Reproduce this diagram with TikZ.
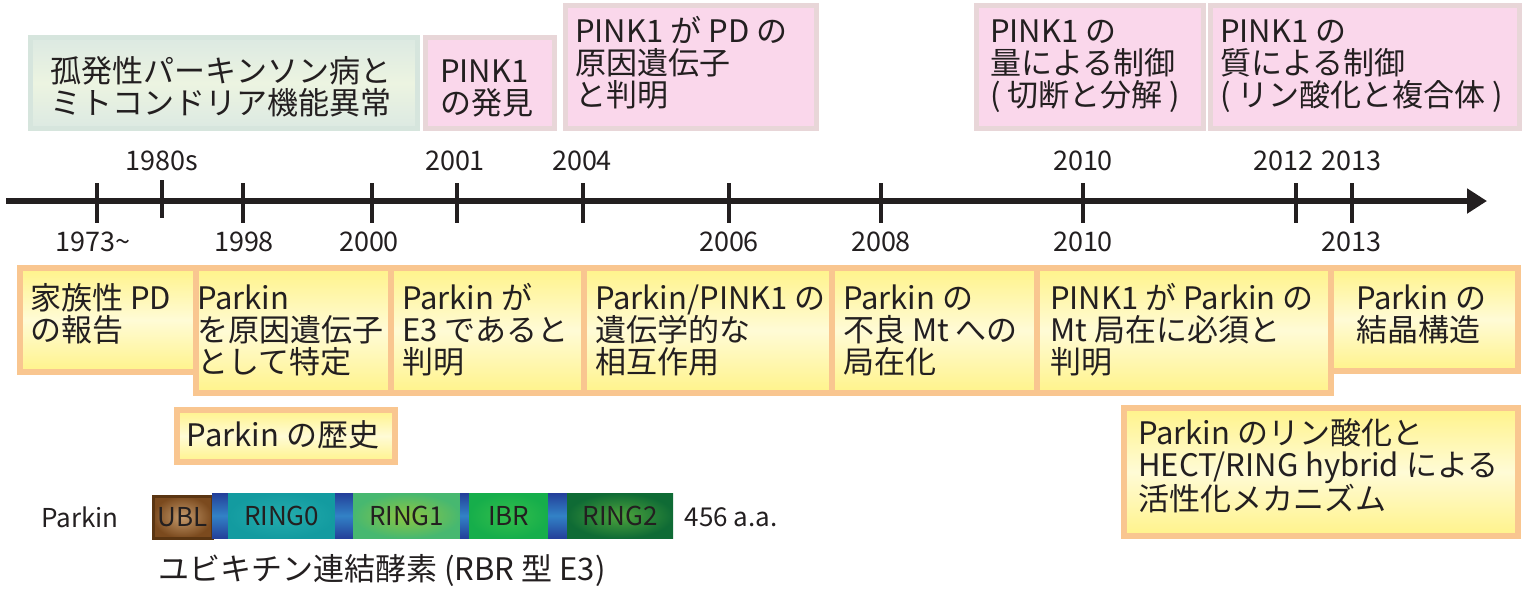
\documentclass[tikz,border=0pt]{standalone}
\usepackage{fontspec}
\setmainfont{Noto Sans CJK JP}
\usetikzlibrary{arrows.meta}
\definecolor{ink}{HTML}{231F20}
\definecolor{pinkfill}{HTML}{FAD7EB}
\definecolor{pinkedge}{HTML}{E8D6D8}
\definecolor{greenedge}{HTML}{D6E5DD}
\definecolor{greenA}{HTML}{DCE9E2}
\definecolor{greenB}{HTML}{ECF4E1}
\definecolor{yedge}{HTML}{F9C690}
\definecolor{yA}{HTML}{FFF38A}
\definecolor{yB}{HTML}{FFFBD6}
\definecolor{ublout}{HTML}{7B4A1E}
\definecolor{ublin}{HTML}{C49A6C}
\definecolor{ubledge}{HTML}{5A3512}
\definecolor{linkA}{HTML}{24409A}
\definecolor{linkB}{HTML}{3282C6}
\definecolor{rzout}{HTML}{139BA0}
\definecolor{rzin}{HTML}{24ACAD}
\definecolor{roout}{HTML}{47B870}
\definecolor{roin}{HTML}{8EC640}
\definecolor{ibrout}{HTML}{16AE4B}
\definecolor{ibrin}{HTML}{34BE4B}
\definecolor{rtout}{HTML}{0F6B35}
\definecolor{rtin}{HTML}{4EA43C}
\newcommand\mytp{\rule{0pt}{27pt}}
\newcommand\jfont{\fontsize{31}{32}\selectfont}
\newcommand\yfont{\fontsize{27}{28}\selectfont}
\newcommand\dfont{\fontsize{26}{28}\selectfont}
\tikzset{
  pinkbox/.style={draw=pinkedge, line width=5pt, fill=pinkfill, anchor=north west, inner sep=0pt},
  greenbox/.style={draw=greenedge, line width=5pt, top color=greenA, bottom color=greenA, middle color=greenB, anchor=north west, inner sep=0pt},
  ybox/.style={draw=yedge, line width=6pt, top color=yA, bottom color=yA, middle color=yB, anchor=north west, inner sep=0pt},
  txt/.style={anchor=north west, align=left, inner sep=0pt, text=ink, font=\jfont},
  year/.style={anchor=center, inner sep=0pt, text=ink, font=\yfont},
  tick/.style={draw=ink, line width=4.5pt},
  dom/.style={anchor=north west, inner sep=0pt, minimum height=45pt, text=ink, font=\dfont},
  link/.style={dom, top color=linkA, bottom color=linkA, middle color=linkB}
}
\begin{document}
\begin{tikzpicture}[x=1pt,y=-1pt]
\useasboundingbox (0,0) rectangle (1531,590);
% top boxes
\node[greenbox, minimum width=387pt, minimum height=91pt] (g1) at (28,35) {};
\node[txt, anchor=north, align=center] (g1t) at (221,55) {\mytp 孤発性パーキンソン病と\\ミトコンドリア機能異常};
\node[pinkbox, minimum width=129pt, minimum height=91pt] (p1) at (423,35) {};
\node[txt] (p1t) at (440,55) {\mytp PINK1\\の発見};
\node[pinkbox, minimum width=251pt, minimum height=123.5pt] (p2) at (563,2.5) {};
\node[txt] (p2t) at (575,15) {\mytp PINK1 が PD の\\原因遺伝子\\と判明};
\node[pinkbox, minimum width=227pt, minimum height=123.5pt] (p3) at (974,2.5) {};
\node[txt] (p3t) at (990,15) {\mytp PINK1 の\\量による制御\\( 切断と分解 )};
\node[pinkbox, minimum width=309pt, minimum height=123.5pt] (p4) at (1208,2.5) {};
\node[txt] (p4t) at (1220,15) {\mytp PINK1 の\\質による制御\\( リン酸化と複合体 )};
% timeline
\coordinate (tl0) at (6,201);
\coordinate (tl1) at (1487,201);
\draw[draw=ink, fill=ink, line width=5.5pt, -{Triangle[length=20pt,width=24pt]}] (tl0) -- (tl1);
\foreach \x in {97,243,372,457,583,729,881,1083,1296,1352}
  \draw[tick] (\x,183) -- (\x,223);
\draw[tick] (162,180) -- (162,218);
\node[year] (y1980) at (162,161) {1980s};
\node[year] (y2001t) at (455,161) {2001};
\node[year] (y2004t) at (582,161) {2004};
\node[year] (y2010t) at (1083,161) {2010};
\node[year] (y2012t) at (1283,161) {2012};
\node[year] (y2013t) at (1351,161) {2013};
\node[year] (y1973) at (93,242) {1973\textasciitilde};
\node[year] (y1998) at (244,242) {1998};
\node[year] (y2000) at (369,242) {2000};
\node[year] (y2006) at (729,242) {2006};
\node[year] (y2008) at (881,242) {2008};
\node[year] (y2010b) at (1083,242) {2010};
\node[year] (y2013b) at (1351,242) {2013};
% yellow boxes
\node[ybox, minimum width=176pt, minimum height=104pt] (b1) at (17,265) {};
\node[ybox, minimum width=195pt, minimum height=125pt] (b2) at (193,265) {};
\node[ybox, minimum width=193pt, minimum height=125pt] (b3) at (388,265) {};
\node[ybox, minimum width=248pt, minimum height=125pt] (b4) at (581,265) {};
\node[ybox, minimum width=205pt, minimum height=125pt] (b5) at (829,265) {};
\node[ybox, minimum width=294pt, minimum height=125pt] (b6) at (1034,265) {};
\node[ybox, minimum width=187pt, minimum height=103pt] (b7) at (1328,265) {};
\node[txt] (b1t) at (30,282) {\mytp 家族性 PD\\の報告};
\node[txt] (b2t) at (197,282) {\mytp Parkin\\を原因遺伝子\\として特定};
\node[txt] (b3t) at (402,282) {\mytp Parkin が\\E3 であると\\判明};
\node[txt] (b4t) at (595,282) {\mytp Parkin/PINK1 の\\遺伝学的な\\相互作用};
\node[txt] (b5t) at (843,282) {\mytp Parkin の\\不良 Mt への\\局在化};
\node[txt] (b6t) at (1050,282) {\mytp PINK1 が Parkin の\\Mt 局在に必須と\\判明};
\node[txt] (b7t) at (1356,282) {\mytp Parkin の\\結晶構造};
\node[ybox, minimum width=218pt, minimum height=52pt] (h) at (174,407) {};
\node[txt, anchor=center] (ht) at (283,435) {Parkin の歴史};
\node[ybox, minimum width=394pt, minimum height=128pt] (big) at (1121,405) {};
\node[txt] (bigt) at (1138,417) {\mytp Parkin のリン酸化と\\HECT/RING hybrid による\\活性化メカニズム};
% domain bar
\node[dom, draw=ubledge, line width=3pt, inner color=ublin, outer color=ublout, minimum width=59pt, minimum height=42pt] (ubl) at (151.5,494.5) {UBL};
\node[link, minimum width=16pt] (l1) at (212,493) {};
\node[dom, inner color=rzin, outer color=rzout, minimum width=107pt] (r0) at (228,493) {RING0};
\node[link, minimum width=18pt] (l2) at (335,493) {};
\node[dom, inner color=roin, outer color=roout, minimum width=107pt] (r1) at (353,493) {RING1};
\node[link, minimum width=9pt] (l3) at (460,493) {};
\node[dom, inner color=ibrin, outer color=ibrout, minimum width=79pt] (ibr) at (469,493) {IBR};
\node[link, minimum width=19pt] (l4) at (548,493) {};
\node[dom, inner color=rtin, outer color=rtout, minimum width=106pt] (r2) at (567,493) {RING2};
\node[year, font=\dfont] (pk) at (80,517) {Parkin};
\node[year, font=\dfont] (aa) at (731,517) {456 a.a.};
\node[year, font=\jfont] (e3) at (382,570) {ユビキチン連結酵素 (RBR 型 E3)};
\end{tikzpicture}
\end{document}
